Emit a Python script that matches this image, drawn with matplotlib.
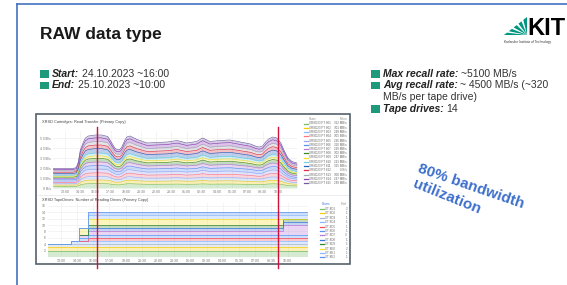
import numpy as np
import matplotlib
matplotlib.use("Agg")
import matplotlib.pyplot as plt
from matplotlib.patches import Rectangle, Polygon
from matplotlib.lines import Line2D

plt.rcParams['font.family'] = ['Liberation Sans', 'DejaVu Sans']

# --- data ---------------------------------------------------------------
# hours since 24.10.2023 00:00
read_hours = [11.8, 13.0, 13.8, 14.1, 14.3, 14.5, 14.8, 15.0, 15.3, 16.0, 16.6,
              17.2, 17.4, 17.6, 17.9, 18.1, 18.4, 18.6, 18.9, 19.1, 19.4, 19.7,
              20.1, 21.1, 22.1, 23.1, 24.05, 25.0, 26.0, 26.4, 26.6, 26.9, 27.3,
              28.3, 29.3, 30.3, 31.3, 31.9, 32.2, 32.5, 32.8, 33.1, 33.5, 33.9,
              34.3, 34.6, 35.0, 35.4, 35.9]
# aggregate read rate, GB/s
total_rate = [1.95, 1.95, 1.95, 2.05, 2.6, 3.8, 4.6, 5.0, 5.2, 5.3, 5.3,
              5.15, 4.85, 4.5, 4.0, 3.85, 3.85, 4.1, 4.8, 5.1, 5.2, 5.05,
              4.85, 4.5, 4.55, 4.6, 4.75, 4.5, 4.65, 4.9, 5.0, 4.85, 4.65,
              4.75, 4.8, 4.6, 4.4, 4.15, 4.1, 4.2, 4.6, 4.9, 5.1, 5.0,
              4.5, 3.8, 3.0, 2.65, 2.5]
# thickness of each stacked band (bottom -> top), share of the aggregate in %
drive_share = [8.2, 6.8, 6.8, 6.8, 6.8, 6.8, 6.8, 6.8, 4.8, 5.4, 8.2, 6.8, 6.8, 6.8, 5.4]
cart_names = ["XRSD23 FT 801", "XRSD23 FT 802", "XRSD23 FT 803", "XRSD23 FT 804",
              "XRSD23 FT 805", "XRSD23 FT 806", "XRSD23 FT 807", "XRSD23 FT 808",
              "XRSD23 FT 809", "XRSD23 FT 810", "XRSD23 FT 811", "XRSD23 FT 812",
              "XRSD23 FT 813", "XRSD23 FT 814", "XRSD23 FT 815"]
cart_vals = ["312 MB/s", "301 MB/s", "298 MB/s", "305 MB/s", "296 MB/s", "310 MB/s",
             "299 MB/s", "302 MB/s", "287 MB/s", "291 MB/s", "315 MB/s", "0 B/s",
             "300 MB/s", "297 MB/s", "289 MB/s"]
top_colors = ['#73BF69', '#F2CC0C', '#8AB8FF', '#FF7383', '#9DA3F2', '#5794F2',
              '#B877D9', '#37872D', '#FADE2A', '#6ED0E0', '#1F60C4', '#E02F44',
              '#9FA7B3', '#8F3BB8', '#705DA0']
time_ticks = [13.0, 14.5, 16.0, 17.5, 19.0, 20.5, 22.0, 23.5, 25.0, 26.5, 28.0,
              29.5, 31.0, 32.5, 34.0]
rate_ticks = [0, 1, 2, 3, 4, 5]
rate_labels = ["0 B/s", "1 GB/s", "2 GB/s", "3 GB/s", "4 GB/s", "5 GB/s"]

# reading drives, piecewise constant between these hours
step_hours = [11.8, 13.9, 14.65, 15.5, 33.6, 35.9]
drive_counts = [
    [2, 2, 2, 2, 2],
    [1, 1, 1, 1, 1],
    [1, 1, 1, 1, 1],
    [0, 1, 1, 1, 1],
    [0, 0, 0, 1, 1],
    [0, 0, 1, 1, 1],
    [0, 0, 1, 1, 3],
    [0, 0, 0, 1, 1],
    [0, 0, 0, 1, 1],
    [0, 0, 2, 2, 0],
    [0, 0, 0, 1, 1],
    [0, 0, 0, 1, 1],
]
drive_names = ["XT 8D1", "XT 8D2", "XT 8D3", "XT 8D4", "XT 8D5", "XT 8D6",
               "XT 8D7", "XT 8D8", "XT 8D9", "XT 8E0", "XT 8E1", "XT 8E2"]
drive_totals = ["2", "1", "1", "1", "1", "1", "3", "1", "1", "2", "1", "1"]
bot_colors = ['#73BF69', '#F2CC0C', '#A8B8D0', '#8AB8FF', '#F2495C', '#5794F2',
              '#B877D9', '#3274D9', '#37872D', '#FADE2A', '#8AB8FF', '#5794F2']
drive_ticks = [2, 4, 6, 8, 10, 12, 14, 16]

W, H = 567, 285


def fx(x):
    return x / W


def fy(y):
    return 1 - y / H


def box(x0, y0, x1, y1):
    return [x0 / W, 1 - y1 / H, (x1 - x0) / W, (y1 - y0) / H]


def hhmm(h):
    h = h % 24
    return "%02d:%02d" % (int(h), round((h - int(h)) * 60))


fig = plt.figure(figsize=(5.67, 2.85), dpi=100)
fig.patch.set_facecolor('white')
renderer = fig.canvas.get_renderer()

# slide frame
fig.add_artist(Line2D([fx(17), fx(17)], [fy(4), fy(285)], color='#4472C4', lw=1.2))
fig.add_artist(Line2D([fx(17), fx(567)], [fy(4), fy(4)], color='#4472C4', lw=1.2))

fig.text(fx(40), fy(39.5), "RAW data type", fontsize=12.5, weight='bold', color='#1a1a1a')

# KIT logo
kit_green = '#009682'
for s1, s2 in [(0.0, 0.13), (0.21, 0.34), (0.42, 0.55), (0.63, 0.76), (0.84, 1.0)]:
    pts = [(fx(527), fy(35)), (fx(504 + 23 * s1), fy(35 - 18 * s1)),
           (fx(504 + 23 * s2), fy(35 - 18 * s2))]
    fig.add_artist(Polygon(pts, closed=True, color=kit_green, lw=0))
fig.text(fx(527), fy(35), "KIT", fontsize=17, weight='bold', color='black')
fig.text(fx(504), fy(41.5), "Karlsruhe Institute of Technology", fontsize=2.3,
         color='#333', va='center')


# bullets
def bullet(xsq, y, bold, rest):
    if xsq is not None:
        fig.add_artist(Rectangle((fx(xsq), fy(y + 3.6)), 8.5 / W, 7.5 / H,
                                 color='#1E9A7A', lw=0))
        xt = xsq + 12
    else:
        xt = 383
    x_next = xt
    if bold:
        t = fig.text(fx(xt), fy(y), bold, fontsize=7.5, weight='bold', style='italic',
                     va='center', color='#222')
        x_next = t.get_window_extent(renderer).x1 + 2.5
    fig.text(fx(x_next), fy(y), rest, fontsize=7.5, va='center', color='#333')


bullet(40, 74, "Start:", "24.10.2023 ~16:00")
bullet(40, 85.5, "End:", "25.10.2023 ~10:00")
bullet(371, 74, "Max recall rate:", "~5100 MB/s")
bullet(371, 85.5, "Avg recall rate:", "~ 4500 MB/s (~320")
bullet(None, 97, None, "MB/s per tape drive)")
bullet(371, 109, "Tape drives:", "14")

fig.text(fx(417), fy(172), "80% bandwidth", fontsize=11, weight='bold', color='#3D6FCC',
         rotation=-19, rotation_mode='anchor')
fig.text(fx(412), fy(187), "utilization", fontsize=11, weight='bold', color='#3D6FCC',
         rotation=-22, rotation_mode='anchor')

# grafana panel frame (behind the axes)
fig.add_artist(Rectangle((fx(36), fy(264)), 314 / W, 150 / H, facecolor='white',
                         edgecolor='#56616C', lw=1.2, zorder=-1))
fig.add_artist(Line2D([fx(38), fx(348)], [fy(195), fy(195)], color='#e3e6ea', lw=0.5,
                      zorder=-0.5))
fig.text(fx(42), fy(122), "XRSD Cartridges: Read Transfer (Primary Copy)",
         fontsize=2.8, color='#444', va='center')
fig.text(fx(42), fy(199.5), "XRSD TapeDrives: Number of Reading Drives (Primary Copy)",
         fontsize=2.8, color='#444', va='center')

# top chart: stacked read rate
ax1 = fig.add_axes(box(53, 131, 297, 188))
t = np.array(read_hours)
tot = np.array(total_rate)
base = np.zeros_like(tot)
for share, col in zip(drive_share, top_colors):
    top = base + tot * share / sum(drive_share)
    ax1.fill_between(t, base, top, color=col, alpha=0.3, lw=0)
    ax1.plot(t, top, color=col, lw=0.45)
    base = top
ax1.set_xlim(11.8, 35.9)
ax1.set_ylim(0, 5.7)
ax1.set_yticks(rate_ticks)
ax1.set_yticklabels(rate_labels)
ax1.set_xticks(time_ticks)
ax1.set_xticklabels([hhmm(h) for h in time_ticks])

# bottom chart: stacked drives
ax2 = fig.add_axes(box(48, 203, 308, 257))
base = np.zeros(len(step_hours))
for counts, col in zip(drive_counts, bot_colors):
    top = base + np.append(counts, counts[-1])
    ax2.fill_between(step_hours, base, top, step='post', color=col, alpha=0.3, lw=0)
    ax2.step(step_hours, top, where='post', color=col, lw=0.5)
    base = top
ax2.set_xlim(11.8, 35.9)
ax2.set_ylim(0, 16.9)
ax2.set_yticks(drive_ticks)
ax2.set_xticks(time_ticks)
ax2.set_xticklabels([hhmm(h) for h in time_ticks])

for ax in (ax1, ax2):
    ax.patch.set_alpha(0)
    for sp in ax.spines.values():
        sp.set_visible(False)
    ax.tick_params(length=0, pad=1.5, labelsize=2.5, labelcolor='#777')
    ax.grid(True, color='#ececec', lw=0.4)
    ax.set_axisbelow(True)

# legends drawn as table text
fig.text(fx(309), fy(119), "Name", fontsize=2.2, color='#999', va='center')
fig.text(fx(347), fy(119), "Mean", fontsize=2.2, color='#999', va='center', ha='right')
for i, (nm, vl, col) in enumerate(zip(cart_names, cart_vals, top_colors)):
    y = 123.5 + i * 4.25
    fig.add_artist(Line2D([fx(304), fx(307.5)], [fy(y), fy(y)], color=col, lw=0.9))
    fig.text(fx(309), fy(y), nm, fontsize=2.2, color='#666', va='center')
    fig.text(fx(347), fy(y), vl, fontsize=2.2, color='#666', va='center', ha='right')

fig.text(fx(322), fy(204), "Drives", fontsize=2.2, color='#3D71D9', va='center')
fig.text(fx(347), fy(204), "Total", fontsize=2.2, color='#999', va='center', ha='right')
for i, (nm, vl, col) in enumerate(zip(drive_names, drive_totals, bot_colors)):
    y = 209 + i * 4.4
    fig.add_artist(Line2D([fx(320), fx(323.5)], [fy(y), fy(y)], color=col, lw=0.9))
    fig.text(fx(325), fy(y), nm, fontsize=2.2, color='#666', va='center')
    fig.text(fx(347), fy(y), vl, fontsize=2.2, color='#666', va='center', ha='right')

# start / end markers drawn across the screenshot
for xr in (97, 278):
    fig.add_artist(Line2D([fx(xr), fx(xr)], [fy(127), fy(268)], color='#D0103A', lw=1.0))

fig.savefig("out.png", dpi=100)
